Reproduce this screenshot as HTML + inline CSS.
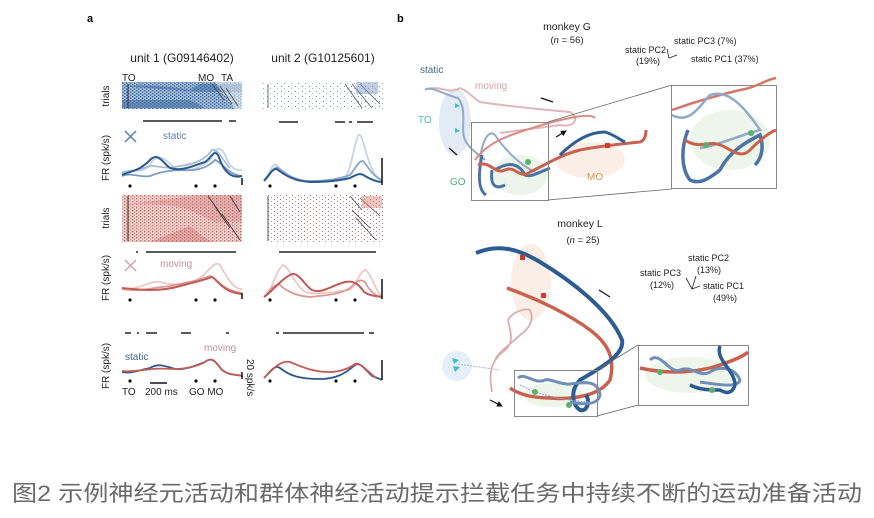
<!DOCTYPE html>
<html><head><meta charset="utf-8"><style>
html,body{margin:0;padding:0;background:#fff;}
svg{display:block;font-family:"Liberation Sans","Noto Sans CJK SC",sans-serif;}
</style></head><body>
<svg width="874" height="518" viewBox="0 0 874 518" xmlns="http://www.w3.org/2000/svg">
<defs>
<pattern id="pb" width="4" height="3" patternUnits="userSpaceOnUse"><rect width="4" height="3" fill="#a9c0dc"/><rect x="0" y="0" width="1.5" height="1.4" fill="#3f6fa5"/><rect x="2" y="1.5" width="1.4" height="1.3" fill="#2f5f96"/></pattern>
<pattern id="pbs" width="7" height="5" patternUnits="userSpaceOnUse"><rect x="1" y="1" width="1" height="1" fill="#6d8fb8"/><rect x="4" y="3" width="1" height="1" fill="#9fb6d2"/></pattern>
<pattern id="pr" width="4" height="3" patternUnits="userSpaceOnUse"><rect width="4" height="3" fill="#efd2d0"/><rect x="0" y="0" width="1.3" height="1.3" fill="#c8625e"/><rect x="2" y="1.5" width="1.2" height="1.2" fill="#d98a85"/></pattern>
<pattern id="prs" width="6" height="4" patternUnits="userSpaceOnUse"><rect x="1" y="1" width="1" height="1" fill="#d08a86"/><rect x="4" y="3" width="1" height="1" fill="#b66"/></pattern>
<marker id="ah" markerWidth="6" markerHeight="6" refX="5" refY="3" orient="auto" markerUnits="userSpaceOnUse"><path d="M0 0 L6 3 L0 6 Z" fill="#111"/></marker>
</defs>

<text x="87" y="22" font-size="11" font-weight="bold">a</text>
<text x="397" y="22" font-size="11" font-weight="bold">b</text>
<text x="182" y="62" font-size="12" text-anchor="middle" fill="#222">unit 1 (G09146402)</text>
<text x="323" y="62" font-size="12" text-anchor="middle" fill="#222">unit 2 (G10125601)</text>
<text x="122" y="81" font-size="10" fill="#222">TO</text>
<text x="198" y="81" font-size="10" fill="#222">MO</text>
<text x="221" y="81" font-size="10" fill="#222">TA</text>

<rect x="122" y="82" width="120" height="27" fill="url(#pb)"/>
<path d="M122 86 Q160 84 190 90 L200 84 L242 84 L242 92 L200 92 Z" fill="#2f5f96" opacity="0.45"/>
<path d="M122 100 L190 100 L205 108 L122 108 Z" fill="#2f5f96" opacity="0.45"/>
<path d="M215 82 L242 82 L242 109 L235 109 Z" fill="#fff" opacity="0.5"/>
<line x1="128" y1="84" x2="128" y2="108" stroke="#333" stroke-width="1"/>
<path d="M212 84 L224 100 M220 86 L232 104 M226 88 L238 106" stroke="#444" stroke-width="0.8"/>
<rect x="262" y="82" width="122" height="28" fill="url(#pbs)"/>
<line x1="268" y1="84" x2="268" y2="108" stroke="#777" stroke-width="1"/>
<path d="M345 84 L362 108 M352 84 L372 108 M360 84 L380 104" stroke="#556" stroke-width="0.8"/>
<rect x="356" y="82" width="22" height="12" fill="#5f86b4" opacity="0.4"/>
<text transform="translate(109,96) rotate(-90)" font-size="10" text-anchor="middle" fill="#222">trials</text>

<g stroke="#222" stroke-width="1.5">
<line x1="143" y1="121" x2="222" y2="121"/><line x1="229" y1="121" x2="236" y2="121"/>
<line x1="279" y1="122" x2="298" y2="122"/><line x1="335" y1="122" x2="345" y2="122"/><line x1="349" y1="122" x2="352" y2="122"/><line x1="357" y1="122" x2="373" y2="122"/>
</g>

<text transform="translate(109,158) rotate(-90)" font-size="10" text-anchor="middle" fill="#222">FR (spk/s)</text>
<path d="M125 131 L136 142 M136 131 L125 142" stroke="#5a7fae" stroke-width="1.5"/>
<text x="163" y="139" font-size="10" fill="#5a7fae">static</text>
<g fill="none" stroke-width="1.8">
<path d="M122 172 C135 168 140 175 150 165 C158 150 165 160 175 168 C185 174 200 168 210 160 C215 150 220 140 228 162 C235 172 240 170 242 170" stroke="#c5d3e5"/>
<path d="M122 173 C130 170 135 172 150 166 C155 165 165 170 180 166 C195 164 205 160 212 150 C218 148 222 160 230 168" stroke="#a5bcd8"/>
<path d="M122 176 C132 172 140 178 150 176 C165 170 175 170 195 170 C205 168 210 165 215 160 C222 162 228 175 242 176" stroke="#7d9bc2"/>
<path d="M122 175 C135 170 140 170 150 160 C158 152 162 162 170 168 C182 172 195 165 205 162 C212 158 215 145 220 160 C226 176 235 178 242 176" stroke="#2b5a8f" stroke-width="2"/>
<path d="M264 180 C270 175 272 162 276 165 C282 170 290 180 300 181 C320 182 335 180 345 178 C352 170 356 130 360 135 C365 140 368 175 382 180" stroke="#c5d3e5"/>
<path d="M264 181 C270 176 274 165 278 168 C286 174 295 181 310 181 C330 181 342 178 350 175 C356 168 360 158 364 162 C370 170 375 178 382 180" stroke="#8aa5c9"/>
<path d="M264 181 C270 174 274 166 278 170 C286 176 295 181 310 182 C330 182 342 180 350 178 C356 175 360 172 365 176 C372 180 378 182 382 182" stroke="#2b5a8f" stroke-width="2"/>
</g>
<g fill="#111"><circle cx="130" cy="186" r="1.6"/><circle cx="196" cy="186" r="1.6"/><circle cx="215" cy="186" r="1.6"/><circle cx="270" cy="186" r="1.6"/><circle cx="336" cy="186" r="1.6"/><circle cx="355" cy="186" r="1.6"/></g>
<path d="M242 178 L242 185 M382 158 L382 185" stroke="#111" stroke-width="1.5"/>

<rect x="122" y="195" width="120" height="47" fill="url(#pr)"/>
<path d="M122 205 Q170 200 200 215 L215 222 L242 222 L242 195 L200 195 Z" fill="#c8625e" opacity="0.25"/>
<path d="M190 226 Q205 240 215 242 L150 242 Z" fill="#c8625e" opacity="0.35"/>
<line x1="128" y1="196" x2="128" y2="241" stroke="#333" stroke-width="1"/>
<path d="M208 196 L222 216 M214 205 L230 228 M222 214 L240 240 M230 196 L240 212" stroke="#333" stroke-width="0.8"/>
<rect x="266" y="195" width="118" height="47" fill="url(#prs)"/>
<line x1="268" y1="196" x2="268" y2="241" stroke="#555" stroke-width="1"/>
<path d="M350 196 L362 210 M352 210 L370 228 M356 218 L376 240 M360 198 L380 216" stroke="#444" stroke-width="0.8"/>
<rect x="362" y="196" width="20" height="12" fill="#d98a85" opacity="0.5"/>
<text transform="translate(109,218) rotate(-90)" font-size="10" text-anchor="middle" fill="#222">trials</text>
<g stroke="#222" stroke-width="1.5"><line x1="136" y1="252" x2="138" y2="252"/><line x1="146" y1="252" x2="236" y2="252"/><line x1="279" y1="252" x2="376" y2="252"/></g>

<text transform="translate(109,278) rotate(-90)" font-size="10" text-anchor="middle" fill="#222">FR (spk/s)</text>
<path d="M125 260 L136 271 M136 260 L125 271" stroke="#d7a0a4" stroke-width="1.5"/>
<text x="160" y="267" font-size="10" fill="#c49098">moving</text>
<g fill="none" stroke-width="1.8">
<path d="M122 289 C140 290 150 280 160 282 C175 286 190 285 200 278 C210 270 215 260 220 265 C228 280 235 290 242 289" stroke="#efc8c6"/>
<path d="M122 289 C140 292 150 288 170 286 C190 282 200 280 210 276 C215 276 220 290 242 293" stroke="#dc9894"/>
<path d="M122 288 C140 290 160 292 180 286 C195 282 205 280 212 277 C218 280 222 292 242 294" stroke="#c35a54" stroke-width="2"/>
<path d="M264 297 C272 292 276 270 283 265 C290 268 295 285 305 292 C320 296 340 290 350 290 C356 286 360 270 366 270 C372 276 376 292 382 296" stroke="#efc8c6"/>
<path d="M264 297 C270 290 275 283 280 285 C285 290 295 296 310 297 C330 295 340 294 350 288 C356 282 360 278 365 282 C370 292 376 296 382 297" stroke="#dc9894"/>
<path d="M264 297 C272 292 280 280 290 275 C298 270 304 285 312 290 C322 294 330 286 345 282 C355 280 360 286 364 292 C370 296 376 296 382 297" stroke="#c35a54" stroke-width="2"/>
</g>
<g fill="#111"><circle cx="130" cy="300" r="1.6"/><circle cx="196" cy="300" r="1.6"/><circle cx="215" cy="300" r="1.6"/><circle cx="270" cy="300" r="1.6"/><circle cx="336" cy="300" r="1.6"/><circle cx="355" cy="300" r="1.6"/></g>
<path d="M242 293 L242 299 M382 279 L382 299" stroke="#111" stroke-width="1.5"/>

<g stroke="#222" stroke-width="1.5">
<line x1="125" y1="333" x2="131" y2="333"/><line x1="137" y1="333" x2="139" y2="333"/><line x1="146" y1="333" x2="157" y2="333"/><line x1="181" y1="333" x2="191" y2="333"/><line x1="226" y1="333" x2="229" y2="333"/>
<line x1="276" y1="333" x2="279" y2="333"/><line x1="283" y1="333" x2="364" y2="333"/><line x1="369" y1="333" x2="374" y2="333"/>
</g>
<text transform="translate(109,366) rotate(-90)" font-size="10" text-anchor="middle" fill="#222">FR (spk/s)</text>
<text x="125" y="360" font-size="10" fill="#3e6792">static</text>
<text x="204" y="351" font-size="10" fill="#c49098">moving</text>
<g fill="none" stroke-width="1.8">
<path d="M122 372 C130 374 140 370 150 368 C158 363 165 366 175 369 C185 370 195 366 205 362 C212 356 216 362 222 370 C230 376 236 374 242 376" stroke="#2b5a8f"/>
<path d="M122 371 C132 372 142 370 152 369 C160 368 168 369 178 369 C190 368 198 366 205 362 C212 356 216 362 222 370 C230 376 236 374 242 376" stroke="#c35a54"/>
<path d="M264 378 C270 372 275 364 280 368 C290 376 300 379 320 379 C335 379 345 374 355 365 C360 362 364 368 372 376 C378 378 382 380 382 380" stroke="#2b5a8f"/>
<path d="M264 378 C272 370 280 360 290 362 C300 366 312 372 330 372 C340 372 350 368 355 364 C360 362 366 370 376 378" stroke="#c35a54"/>
</g>
<g fill="#111"><circle cx="130" cy="381" r="1.6"/><circle cx="196" cy="381" r="1.6"/><circle cx="215" cy="381" r="1.6"/><circle cx="270" cy="381" r="1.6"/><circle cx="336" cy="381" r="1.6"/><circle cx="355" cy="381" r="1.6"/></g>
<path d="M242 372 L242 379 M382 360 L382 380 M150 383 L167 383" stroke="#111" stroke-width="1.5"/>
<text x="122" y="395" font-size="10" fill="#222">TO</text>
<text x="145" y="395" font-size="10" fill="#222">200 ms</text>
<text x="189" y="395" font-size="10" fill="#222">GO MO</text>
<text transform="translate(247,359) rotate(90)" font-size="10" fill="#222">20 spk/s</text>

<!-- monkey G -->
<text x="567" y="30" font-size="10.5" text-anchor="middle" fill="#222">monkey G</text>
<text x="567" y="43" font-size="9.5" text-anchor="middle" fill="#222">(<tspan font-style="italic">n</tspan> = 56)</text>
<text x="674" y="44" font-size="9" fill="#222">static PC3 (7%)</text>
<text x="625" y="53" font-size="9" fill="#222">static PC2</text>
<text x="636" y="64" font-size="9" fill="#222">(19%)</text>
<path d="M667 49 L669 58 L677 55" stroke="#222" stroke-width="0.8" fill="none"/>
<text x="691" y="62" font-size="9" fill="#222">static PC1 (37%)</text>
<ellipse cx="455" cy="122" rx="16" ry="34" fill="#e3ebf5"/>
<ellipse cx="590" cy="160" rx="35" ry="18" fill="#fbeee6"/>
<ellipse cx="520" cy="175" rx="28" ry="20" fill="#edf5ea"/>
<path d="M428 89 C440 85 450 95 460 88 C470 92 475 100 480 102 C520 108 550 110 570 112 C580 118 575 128 560 125 C540 128 520 130 500 133" stroke="#e0b6ba" stroke-width="2" fill="none"/>
<path d="M425 90 C430 85 445 95 458 98 C468 110 460 130 465 140 C470 150 480 155 485 160 M480 165 C480 145 488 128 495 135 C505 150 520 165 535 172" stroke="#92a9c7" stroke-width="2" fill="none"/>
<path d="M475 160 C490 140 510 135 545 124 C560 120 590 112 595 118" stroke="#dc8a80" stroke-width="2" fill="none"/>
<path d="M482 155 C478 175 478 190 486 195 M492 170 C490 185 495 190 505 185 M495 170 C510 160 520 165 525 175 C530 178 540 172 550 168" stroke="#4a74a6" stroke-width="3" fill="none"/>
<path d="M478 165 C490 160 495 175 505 170 C515 165 520 180 530 172 C545 165 560 155 580 150 C600 146 620 144 640 142 C646 140 646 132 646 130" stroke="#c9614f" stroke-width="3" fill="none"/>
<path d="M560 155 C575 140 590 132 605 132 C615 135 620 140 625 142" stroke="#2f5f96" stroke-width="3" fill="none"/>
<rect x="605" y="143" width="5" height="5" fill="#d43a2a"/>
<circle cx="528" cy="162" r="3" fill="#5cb06a"/>
<path d="M455 103 l5 3 l-5 2 Z M455 128 l5 3 l-5 2 Z" fill="#35c2d8"/>
<rect x="471.5" y="122.5" width="77" height="78" fill="none" stroke="#888" stroke-width="1"/>
<path d="M548 122 L672 85 M548 200 L672 189" stroke="#666" stroke-width="0.8"/>
<rect x="671.5" y="85.5" width="105" height="103" fill="#fff" stroke="#888" stroke-width="1"/>
<ellipse cx="730" cy="140" rx="40" ry="30" fill="#eef5ea"/>
<path d="M672 110 C700 100 720 95 740 90 C755 88 765 80 776 78" stroke="#d27868" stroke-width="2.5" fill="none"/>
<path d="M672 115 C690 125 700 105 710 95 C725 90 740 100 760 130 C740 135 720 145 700 148" stroke="#92a9c7" stroke-width="2.5" fill="none"/>
<path d="M688 130 C680 150 682 170 690 180 C700 185 710 178 720 170 C730 150 750 140 760 135 C765 150 760 160 755 165" stroke="#4a74a6" stroke-width="3.5" fill="none"/>
<path d="M685 140 C700 150 710 140 720 145 C730 148 740 160 750 150 C760 140 770 132 776 130" stroke="#c9614f" stroke-width="3" fill="none"/>
<circle cx="706" cy="145" r="3" fill="#5cb06a"/><circle cx="751" cy="133" r="3" fill="#5cb06a"/>
<path d="M541 98 L553 102 M449 148 L457 155 M556 137 L566 131" stroke="#111" stroke-width="1.2" marker-end="url(#ah)"/>
<text x="420" y="73" font-size="10" fill="#3e6792">static</text>
<text x="475" y="89" font-size="10" fill="#d8a0a4">moving</text>
<text x="418" y="123" font-size="10" fill="#4fb8cf">TO</text>
<text x="450" y="185" font-size="10" fill="#4caf7a">GO</text>
<text x="587" y="180" font-size="10" fill="#d69a5a">MO</text>

<!-- monkey L -->
<text x="580" y="227" font-size="10.5" text-anchor="middle" fill="#222">monkey L</text>
<text x="583" y="243" font-size="9.5" text-anchor="middle" fill="#222">(<tspan font-style="italic">n</tspan> = 25)</text>
<text x="688" y="261" font-size="9" fill="#222">static PC2</text>
<text x="697" y="273" font-size="9" fill="#222">(13%)</text>
<text x="640" y="276" font-size="9" fill="#222">static PC3</text>
<text x="650" y="288" font-size="9" fill="#222">(12%)</text>
<text x="703" y="289" font-size="9" fill="#222">static PC1</text>
<text x="713" y="301" font-size="9" fill="#222">(49%)</text>
<path d="M686 278 L692 289 L696 276 M692 289 L700 286" stroke="#222" stroke-width="0.8" fill="none"/>
<ellipse cx="531" cy="282" rx="20" ry="38" fill="#fbeee6"/>
<ellipse cx="457" cy="366" rx="15" ry="15" fill="#e6eef8"/>
<ellipse cx="553" cy="395" rx="30" ry="12" fill="#edf5ea"/>
<path d="M492 392 C488 370 492 360 505 350 C515 342 510 330 508 320 C512 312 525 308 530 310 C535 320 528 330 520 335 C510 345 500 350 495 360" stroke="#dbaeae" stroke-width="1.8" fill="none"/>
<path d="M507 288 C540 300 570 315 590 330 C610 345 615 360 610 380 C600 395 575 400 550 398 C535 398 520 395 510 388" stroke="#c9614f" stroke-width="3.5" fill="none"/>
<path d="M476 253 C500 243 520 250 540 262 C570 280 610 310 622 340 C625 355 600 368 580 380 C570 390 572 405 580 410 C588 412 590 400 586 395" stroke="#2d5c93" stroke-width="4" fill="none"/>
<path d="M518 378 C525 372 535 385 545 380 C550 378 560 385 570 384 C585 382 598 380 600 395 C598 405 585 405 570 402" stroke="#6f8fb8" stroke-width="3" fill="none"/>
<path d="M520 385 C540 395 560 400 590 402" stroke="#8fa7c5" stroke-width="1" stroke-dasharray="2,1" fill="none"/>
<path d="M458 364 L500 370" stroke="#a9bad2" stroke-width="1" stroke-dasharray="2,1"/>
<path d="M452 358 l7 2 l-5 4 Z M453 366 l7 1 l-5 5 Z" fill="#35c2d8"/>
<rect x="520" y="255" width="5" height="5" fill="#d43a2a"/><rect x="541" y="293" width="5" height="5" fill="#d43a2a"/>
<circle cx="535" cy="392" r="3" fill="#5cb06a"/><circle cx="569" cy="405" r="3" fill="#5cb06a"/>
<path d="M610 297 L599 290 M490 400 L502 406" stroke="#111" stroke-width="1.2" marker-end="url(#ah)"/>
<rect x="514.5" y="370.5" width="83" height="46" fill="none" stroke="#888" stroke-width="1"/>
<path d="M597 370 L638 345 M597 416 L638 405" stroke="#666" stroke-width="0.8"/>
<rect x="638.5" y="345.5" width="110" height="60" fill="#fff" stroke="#888" stroke-width="1"/>
<ellipse cx="690" cy="375" rx="45" ry="18" fill="#eef5ea"/>
<path d="M640 368 C670 375 700 372 720 365 C735 360 745 355 748 352" stroke="#c9614f" stroke-width="3.5" fill="none"/>
<path d="M650 360 C660 350 670 375 680 370 C690 365 700 378 710 372 C720 365 735 368 740 380 C738 388 720 385 700 382" stroke="#6f8fb8" stroke-width="3" fill="none"/>
<path d="M720 346 C715 360 735 370 735 385 C732 395 725 393 720 390 C710 390 700 390 690 385" stroke="#2d5c93" stroke-width="3.5" fill="none"/>
<circle cx="660" cy="372" r="3" fill="#5cb06a"/><circle cx="712" cy="390" r="3" fill="#5cb06a"/>

<text x="12" y="501" font-size="22" fill="#6a6a6a" font-family="'Liberation Sans','Noto Sans CJK SC',sans-serif" textLength="850" lengthAdjust="spacingAndGlyphs">图2 示例神经元活动和群体神经活动提示拦截任务中持续不断的运动准备活动</text>
</svg>
</body></html>
